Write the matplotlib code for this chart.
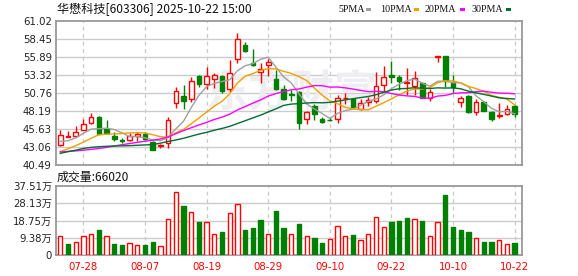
import numpy as np
import matplotlib
matplotlib.use("Agg")
import matplotlib.pyplot as plt
from matplotlib.patches import Rectangle

# ---------------- data ----------------
opens = [43.30, 44.55, 44.67, 45.53, 46.43, 47.33, 45.67, 44.62, 43.99, 44.00,
         44.67, 44.96, 43.77, 43.15, 43.58, 49.28, 50.33, 49.90, 53.18, 51.99,
         52.70, 53.18, 51.28, 55.60, 57.60, 55.08, 53.70, 54.70, 52.70, 51.28,
         50.60, 50.90, 47.00, 48.90, 47.05, 46.93, 47.00, 49.98, 49.95, 48.43,
         49.47, 49.66, 51.94, 53.37, 52.99, 52.23, 51.80, 52.23, 50.09, 55.94,
         56.03, 52.13, 49.47, 50.33, 48.00, 49.42, 48.05, 47.52, 47.71, 48.90]
highs = [45.48, 45.34, 46.05, 47.00, 47.86, 47.48, 46.91, 45.19, 44.29, 45.00,
         45.20, 45.19, 43.86, 43.53, 47.38, 51.66, 51.90, 52.99, 53.32, 54.41,
         53.65, 53.32, 55.41, 59.36, 57.98, 56.98, 55.08, 55.60, 54.03, 51.90,
         51.20, 51.00, 48.24, 49.14, 47.38, 47.38, 50.42, 50.80, 50.09, 49.95,
         50.19, 53.75, 54.60, 55.32, 53.32, 54.27, 53.89, 52.37, 51.37, 55.99,
         56.03, 53.32, 50.33, 50.47, 49.85, 49.61, 48.24, 49.28, 49.04, 49.00]
lows = [43.20, 44.48, 44.58, 45.43, 46.29, 44.86, 44.91, 43.96, 43.63, 43.90,
        43.96, 44.05, 42.63, 42.96, 42.87, 48.57, 48.43, 49.52, 51.66, 51.28,
        51.42, 50.80, 50.95, 54.98, 56.55, 54.65, 52.13, 53.18, 51.18, 49.76,
        49.60, 45.57, 46.34, 46.91, 46.43, 46.81, 46.43, 49.19, 48.71, 48.33,
        48.90, 49.38, 51.00, 52.23, 51.18, 50.47, 50.47, 50.00, 49.66, 55.13,
        51.66, 50.80, 48.81, 47.86, 47.67, 48.14, 46.81, 47.24, 47.62, 47.29]
closes = [44.72, 44.60, 45.15, 46.29, 47.29, 44.96, 45.05, 44.15, 43.96, 44.58,
          44.91, 44.24, 42.68, 43.34, 46.91, 51.04, 49.66, 52.42, 52.04, 53.18,
          53.32, 51.04, 53.65, 58.41, 56.74, 54.79, 54.22, 55.13, 51.28, 49.85,
          50.40, 46.43, 48.00, 47.76, 46.57, 46.90, 50.00, 50.05, 48.71, 49.28,
          49.76, 51.70, 52.99, 53.09, 52.47, 52.30, 52.85, 50.09, 50.90, 55.99,
          52.47, 51.66, 50.05, 48.09, 49.47, 48.24, 47.00, 47.57, 48.43, 47.71]
# volume in 万 (10k lots)
volumes = [10.6, 5.95, 6.85, 10.1, 11.2, 13.5, 10.1, 5.95, 5.4, 6.3,
           5.2, 5.4, 7.0, 4.7, 19.3, 34.4, 26.5, 23.6, 17.9, 18.2,
           11.2, 12.4, 23.1, 27.6, 13.5, 14.6, 18.9, 11.2, 23.8, 14.6,
           11.4, 16.8, 10.1, 9.2, 6.5, 8.5, 16.0, 10.1, 10.8, 8.1,
           11.2, 20.9, 15.0, 17.9, 18.4, 20.0, 19.8, 18.4, 10.1, 18.2,
           32.5, 15.1, 13.5, 12.4, 9.0, 7.0, 7.0, 7.9, 5.8, 6.6]
vol_dir = "rgrrrgrggrrggrrrgrgrrgrrgggrggrgrggrrrgrrrrgggrgrrggggrggrrg"

# moving-average values before enough history is on the chart
ma5_head = [43.85, 43.95, 44.35, 45.00]
ma10_head = [42.40, 42.80, 43.25, 43.75, 44.30, 44.80, 44.88, 44.92, 44.98]
ma20_head = [42.35, 42.42, 42.50, 42.60, 42.72, 42.85, 43.00, 43.20, 43.38, 43.55,
             43.72, 43.88, 44.02, 44.20, 44.50, 44.95, 45.40, 45.80, 46.20]
ma30_head = [42.15, 42.40, 42.60, 42.85, 43.00, 43.10, 43.15, 43.20, 43.22, 43.25,
             43.30, 43.35, 43.40, 43.60, 43.85, 44.05, 44.30, 44.60, 44.90, 45.15,
             45.45, 45.70, 46.00, 46.40, 46.80, 47.20, 47.60, 48.05, 48.50]

date_idx = [3, 11, 19, 27, 35, 43, 51, 59]
date_labels = ["07-28", "08-07", "08-19", "08-29", "09-10", "09-22", "10-10", "10-22"]
price_ticks = ["40.49", "43.06", "45.63", "48.19", "50.76", "53.32", "55.89", "58.45", "61.02"]
vol_ticks = [0, 9.38, 18.75, 28.13, 37.51]
vol_tick_labels = ["0", "9.38万", "18.75万", "28.13万", "37.51万"]
title = "华懋科技[603306] 2025-10-22 15:00"
vol_title = "成交量:66020"
legend_names = ["5PMA", "10PMA", "20PMA", "30PMA"]

# ---------------- style ----------------
RED = "#ff0000"
GREEN = "#008000"
MA_COLORS = ["#a0a0a0", "#f0a000", "#ff00ff", "#006d32"]
GRID = "#cccccc"
FRAME = "#999999"
CJK = ["Noto Sans CJK SC", "DejaVu Sans"]
NUM = ["DejaVu Sans", "Noto Sans CJK SC"]

closes_a = np.array(closes)
n = len(closes)
x = np.arange(n)


def moving_avg(head, w):
    out = list(head)
    for i in range(w - 1, n):
        out.append(closes_a[i - w + 1:i + 1].mean())
    return np.array(out)


mas = [moving_avg(ma5_head, 5), moving_avg(ma10_head, 10),
       moving_avg(ma20_head, 20), moving_avg(ma30_head, 30)]

W, H = 578, 276
fig = plt.figure(figsize=(W / 100, H / 100), dpi=100)
L, R = 56, 522
ax = fig.add_axes([L / W, 1 - 165 / H, (R - L) / W, (165 - 21) / H])
axv = fig.add_axes([L / W, 1 - 255 / H, (R - L) / W, (255 - 186) / H])

xlim = (-0.56, 59.96)
pmin, pmax = float(price_ticks[0]), float(price_ticks[-1])

for a in (ax, axv):
    a.set_xlim(*xlim)
    for s in a.spines.values():
        s.set_color(FRAME)
        s.set_linewidth(1.3)
    a.tick_params(length=0)
    for d in date_idx:
        a.axvline(d, color="#c8c8c8", lw=0.9, ls=(0, (3, 3)), zorder=0)

# price panel
ax.set_ylim(pmin, pmax)
pt = np.linspace(pmin, pmax, len(price_ticks))
ax.set_yticks(pt)
ax.set_yticklabels(price_ticks, fontsize=7.3, color="#222222", family=NUM)
ax.tick_params(axis="y", pad=3)
ax.set_xticks([])
for v in pt[1:-1]:
    ax.axhline(v, color=GRID, lw=1.0, zorder=0)

ax.text(0.506, 0.50, "东方财富", transform=ax.transAxes, ha="center", va="center",
        fontsize=31, color="#eeeef2", family=CJK, zorder=0.5, fontweight="bold")

bw = 0.6
for i in range(n):
    o, h, l, c = opens[i], highs[i], lows[i], closes[i]
    up = c >= o
    col = RED if up else GREEN
    top, bot = max(o, c), min(o, c)
    ax.plot([i, i], [top, h], color=col, lw=1.0, zorder=2, solid_capstyle="butt")
    ax.plot([i, i], [l, bot], color=col, lw=1.0, zorder=2, solid_capstyle="butt")
    hgt = max(top - bot, 0.04)
    if up:
        ax.add_patch(Rectangle((i - bw / 2, bot), bw, hgt, facecolor="white",
                               edgecolor=RED, lw=1.0, zorder=3))
    else:
        ax.add_patch(Rectangle((i - bw / 2, bot), bw, hgt, facecolor=GREEN,
                               edgecolor=GREEN, lw=1.0, zorder=3))

for m, colr in zip(mas, MA_COLORS):
    ax.plot(x, m, color=colr, lw=1.0, zorder=4)

# volume panel
axv.set_ylim(0, vol_ticks[-1])
axv.set_yticks(vol_ticks)
axv.set_yticklabels(vol_tick_labels, fontsize=7.3, color="#222222", family=NUM)
axv.tick_params(axis="y", pad=3)
for v in vol_ticks[1:-1]:
    axv.axhline(v, color=GRID, lw=1.0, zorder=0)
for i in range(n):
    if vol_dir[i] == "r":
        axv.add_patch(Rectangle((i - 0.28, 0), 0.56, volumes[i], facecolor="white",
                                edgecolor=RED, lw=1.0, zorder=3))
    else:
        axv.add_patch(Rectangle((i - 0.28, 0), 0.56, volumes[i], facecolor=GREEN,
                                edgecolor=GREEN, lw=1.0, zorder=3))
axv.set_xticks(date_idx)
axv.set_xticklabels(date_labels, fontsize=7.3, color=RED, family=NUM)
axv.tick_params(axis="x", pad=5)

# texts
fig.text(57 / W, 1 - 9.5 / H, title, fontsize=8.7, family=CJK, ha="left", va="center",
         color="#111111")
fig.text(57 / W, 1 - 177.5 / H, vol_title, fontsize=8.6, family=CJK, ha="left",
         va="center", color="#111111")
leg_x = [338, 380, 425, 472]
box_x = [366, 414, 460, 506]
for name, lx, bx, colr in zip(legend_names, leg_x, box_x, MA_COLORS):
    fig.text(lx / W, 1 - 9.5 / H, name, fontsize=7.2, family="Liberation Serif",
             ha="left", va="center", color="#111111")
    fig.patches.append(Rectangle((bx / W, 1 - 11 / H), 5 / W, 3 / H,
                                 transform=fig.transFigure, facecolor=colr,
                                 edgecolor="none"))

fig.savefig("out.png", dpi=100)
